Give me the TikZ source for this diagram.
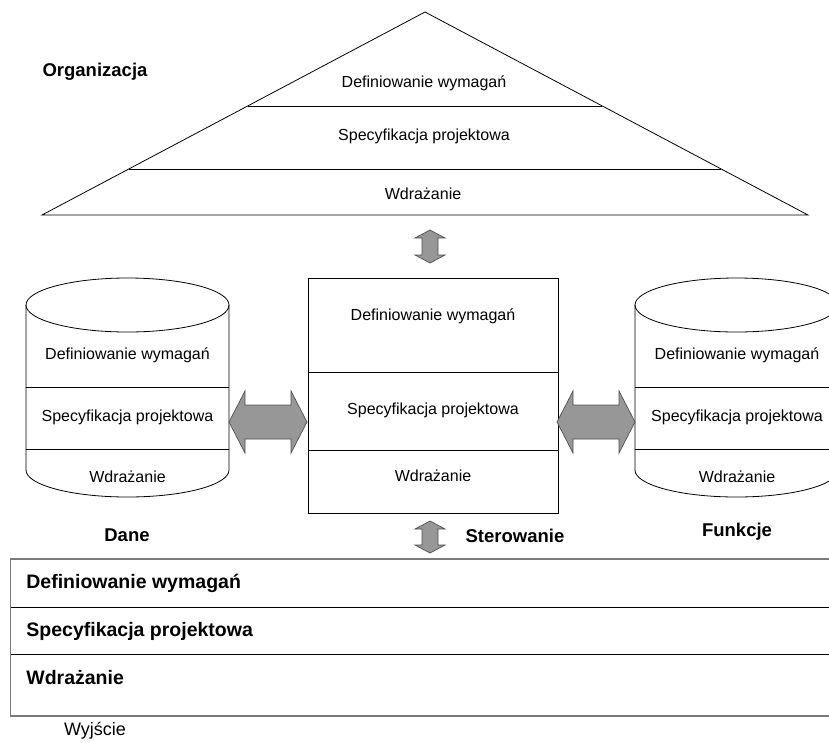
\documentclass[tikz,border=0pt]{standalone}
\usepackage{fontspec}
\setmainfont{Liberation Sans}
\usetikzlibrary{calc}
\definecolor{arrfill}{HTML}{979797}
\definecolor{arrline}{HTML}{505050}
\definecolor{boxgray}{HTML}{7A7A7A}
\begin{document}
\begin{tikzpicture}[x=1pt,y=-1pt,
  line width=0.8pt,
  lbl/.style={font=\fontsize{16}{18}\selectfont, inner sep=0pt},
  blbl/.style={font=\fontsize{18.5}{21}\selectfont\bfseries, inner sep=0pt},
  rowlbl/.style={font=\fontsize{19.5}{22}\selectfont\bfseries, inner sep=0pt, anchor=west},
  arrowshape/.style={fill=arrfill, draw=arrline, line width=0.7pt, line join=miter}
]
\useasboundingbox (0,0) rectangle (829,742);
\clip (0,0) rectangle (829,742);

% ---------- Organizacja (triangle) ----------
\coordinate (apex) at (425,12);
\coordinate (bl) at (42,215);
\coordinate (br) at (808,215);
\draw (apex) -- (bl) -- (br) -- cycle;
\draw ($(apex)!0.4631!(bl)$) -- ($(apex)!0.4631!(br)$);
\draw ($(apex)!0.7734!(bl)$) -- ($(apex)!0.7734!(br)$);
\node[lbl] (t1) at (424,83) {Definiowanie wymagań};
\node[lbl] (t2) at (424,136) {Specyfikacja projektowa};
\node[lbl] (t3) at (423,194) {Wdrażanie};
\node[blbl] (org) at (95,72) {Organizacja};

% ---------- top vertical arrow ----------
\draw[arrowshape] (430,230) -- (445,238) -- (438,238) -- (438,255) -- (445,255)
  -- (430,263) -- (415,255) -- (422,255) -- (422,238) -- (415,238) -- cycle;

% ---------- Sterowanie (centre box) ----------
\draw (308,278) rectangle (558,513);
\draw (308,372) -- (558,372);
\draw (308,450) -- (558,450);
\node[lbl] (s1) at (433,316) {Definiowanie wymagań};
\node[lbl] (s2) at (433,410) {Specyfikacja projektowa};
\node[lbl] (s3) at (433,476) {Wdrażanie};

% ---------- Dane (left cylinder) ----------
\draw (26,305) -- (26,470) arc[start angle=180,end angle=360,x radius=101.5pt,y radius=27pt] -- (229,305);
\draw (127.5,305) ellipse [x radius=101.5pt, y radius=27pt];
\draw (26,387) -- (229,387);
\draw (26,449) -- (229,449);
\node[lbl] (d1) at (127.5,355) {Definiowanie wymagań};
\node[lbl] (d2) at (127.5,417) {Specyfikacja projektowa};
\node[lbl] (d3) at (127.5,477) {Wdrażanie};
\node[blbl] (dane) at (127,535) {Dane};

% ---------- Funkcje (right cylinder) ----------
\draw (635,305) -- (635,470) arc[start angle=180,end angle=360,x radius=101.5pt,y radius=27pt] -- (838,305);
\draw (736.5,305) ellipse [x radius=101.5pt, y radius=27pt];
\draw (635,387) -- (838,387);
\draw (635,449) -- (838,449);
\node[lbl] (f1) at (737,355) {Definiowanie wymagań};
\node[lbl] (f2) at (737,417) {Specyfikacja projektowa};
\node[lbl] (f3) at (737,477) {Wdrażanie};
\node[blbl] (funk) at (737,532) {Funkcje};

% ---------- horizontal double arrows ----------
\draw[arrowshape] (229,422) -- (245,391) -- (245,405) -- (291,405) -- (291,391)
  -- (307,422) -- (291,453) -- (291,439) -- (245,439) -- (245,453) -- cycle;
\draw[arrowshape] (557,422) -- (573,391) -- (573,405) -- (619,405) -- (619,391)
  -- (635,422) -- (619,453) -- (619,439) -- (573,439) -- (573,453) -- cycle;

% ---------- bottom vertical arrow ----------
\draw[arrowshape] (430,521) -- (445,529) -- (438,529) -- (438,545) -- (445,545)
  -- (430,553) -- (415,545) -- (422,545) -- (422,529) -- (415,529) -- cycle;
\node[blbl] (ster) at (515,536) {Sterowanie};

% ---------- Wyjście (bottom box) ----------
\draw[boxgray, line width=1.6pt] (840,559) -- (10.5,559) -- (10.5,716) -- (840,716);
\draw (11,607) -- (840,607);
\draw (11,654) -- (840,654);
\node[rowlbl] (w1) at (26,583) {Definiowanie wymagań};
\node[rowlbl] (w2) at (26,631) {Specyfikacja projektowa};
\node[rowlbl] (w3) at (26,678) {Wdrażanie};
\node[font=\fontsize{18}{20}\selectfont, inner sep=0pt] (wyj) at (95,731) {Wyjście};
\end{tikzpicture}
\end{document}
